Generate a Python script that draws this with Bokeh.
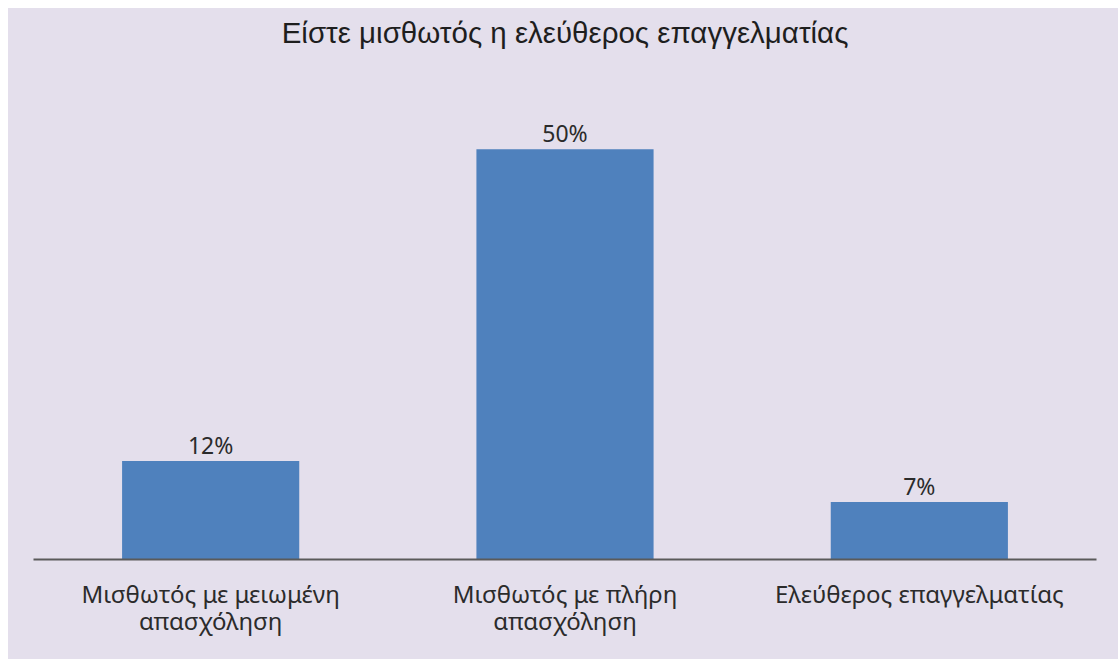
from bokeh.plotting import figure
from bokeh.models import ColumnDataSource, LabelSet, Range1d, CategoricalAxis, CustomJSTickFormatter
from bokeh.core.properties import value
from bokeh.embed import file_html
from bokeh.resources import INLINE

categories = ["Μισθωτός με μειωμένη απασχόληση", "Μισθωτός με πλήρη απασχόληση", "Ελεύθερος επαγγελματίας"]
label_line1 = ["Μισθωτός με μειωμένη", "Μισθωτός με πλήρη", "Ελεύθερος επαγγελματίας"]
label_line2 = ["απασχόληση", "απασχόληση", ""]
values = [12, 50, 7]
value_labels = ["12%", "50%", "7%"]
title_text = "Είστε μισθωτός η ελεύθερος επαγγελματίας"

BG = "#E4DFEC"
source = ColumnDataSource(dict(cat=categories, val=values, lab=value_labels))

p = figure(x_range=categories, y_range=Range1d(0, 59), width=1110, height=651,
           output_backend="svg", toolbar_location=None,
           min_border_left=25, min_border_right=22, min_border_top=63, min_border_bottom=100)
p.margin = (8, 0, 0, 8)
p.background_fill_color = None
p.border_fill_color = None
p.styles = {"background-color": BG}
p.outline_line_color = None
p.grid.visible = False
p.yaxis.visible = False

p.vbar(x="cat", top="val", width=0.5, source=source, color="#4F81BD", line_color=None)

labels = LabelSet(x="cat", y="val", text="lab", source=source, text_align="center",
                  text_baseline="alphabetic", y_offset=7, text_font=value("Noto Sans"),
                  text_font_size=value("23px"), text_color="#2b2b2b")
p.add_layout(labels)

p.title.text = title_text
p.title.align = "center"
p.title.text_font = "Liberation Sans"
p.title.text_font_size = "29.5px"
p.title.text_font_style = "normal"
p.title.text_color = "#1e1e1e"
p.title.padding = (0, 0, 0, 22)

def make_formatter(lines):
    return CustomJSTickFormatter(args=dict(cats=categories, lines=lines),
                                 code="const i = cats.indexOf(tick); return i >= 0 ? lines[i] : '';")

ax = p.xaxis[0]
ax.axis_line_color = "#5a5a5a"
ax.axis_line_width = 2
ax.major_tick_line_color = None
ax.minor_tick_line_color = None
ax.major_label_standoff = 11
ax.major_label_text_font = "Noto Sans"
ax.major_label_text_font_size = "24px"
ax.major_label_text_color = "#2b2b2b"
ax.formatter = make_formatter(label_line1)

ax2 = CategoricalAxis(axis_line_color=None, major_tick_line_color=None, minor_tick_line_color=None,
                      major_label_standoff=-15, major_label_text_font="Noto Sans",
                      major_label_text_font_size="24px", major_label_text_color="#2b2b2b",
                      formatter=make_formatter(label_line2))
p.add_layout(ax2, "below")

open("out.html", "w").write(file_html(p, INLINE))
